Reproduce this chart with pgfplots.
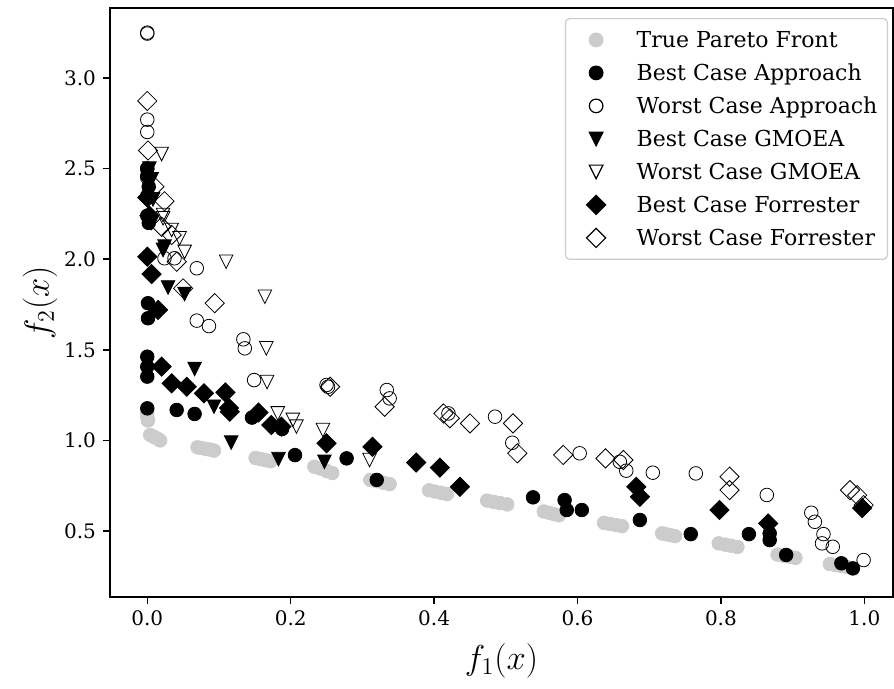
\documentclass[border=0pt]{standalone}
\usepackage[no-math]{fontspec}
\setmainfont{DejaVu Serif}
\usepackage{pgfplots}
\pgfplotsset{compat=1.18}
\definecolor{pfgray}{gray}{0.8}
\pgfdeclareplotmark{vtri}{%
 \pgfpathmoveto{\pgfqpoint{0pt}{-\pgfplotmarksize}}%
 \pgfpathlineto{\pgfqpoint{\pgfplotmarksize}{\pgfplotmarksize}}%
 \pgfpathlineto{\pgfqpoint{-\pgfplotmarksize}{\pgfplotmarksize}}%
 \pgfpathclose\pgfusepathqfillstroke}
\pgfdeclareplotmark{vtrio}{%
 \pgfpathmoveto{\pgfqpoint{0pt}{-\pgfplotmarksize}}%
 \pgfpathlineto{\pgfqpoint{\pgfplotmarksize}{\pgfplotmarksize}}%
 \pgfpathlineto{\pgfqpoint{-\pgfplotmarksize}{\pgfplotmarksize}}%
 \pgfpathclose\pgfusepathqstroke}
\pgfdeclareplotmark{dmd}{%
 \pgfpathmoveto{\pgfqpoint{0pt}{1.414\pgfplotmarksize}}%
 \pgfpathlineto{\pgfqpoint{1.414\pgfplotmarksize}{0pt}}%
 \pgfpathlineto{\pgfqpoint{0pt}{-1.414\pgfplotmarksize}}%
 \pgfpathlineto{\pgfqpoint{-1.414\pgfplotmarksize}{0pt}}%
 \pgfpathclose\pgfusepathqfillstroke}
\pgfdeclareplotmark{dmdo}{%
 \pgfpathmoveto{\pgfqpoint{0pt}{1.414\pgfplotmarksize}}%
 \pgfpathlineto{\pgfqpoint{1.414\pgfplotmarksize}{0pt}}%
 \pgfpathlineto{\pgfqpoint{0pt}{-1.414\pgfplotmarksize}}%
 \pgfpathlineto{\pgfqpoint{-1.414\pgfplotmarksize}{0pt}}%
 \pgfpathclose\pgfusepathqstroke}
\pgfdeclareplotmark{circo}{%
 \pgfpathcircle{\pgfpointorigin}{\pgfplotmarksize}\pgfusepathqstroke}
\pgfdeclareplotmark{circf}{%
 \pgfpathcircle{\pgfpointorigin}{\pgfplotmarksize}\pgfusepathqfillstroke}
\begin{document}
\begin{tikzpicture}
\begin{axis}[
  name=ax,
  scale only axis,
  width=391.5pt, height=294.5pt,
  xmin=-0.052, xmax=1.040,
  ymin=0.136, ymax=3.386,
  xtick={0,0.2,0.4,0.6,0.8,1.0},
  ytick={0.5,1.0,1.5,2.0,2.5,3.0},
  xtick pos=bottom, ytick pos=left,
  tick align=outside,
  major tick length=3.5pt,
  axis line style={line width=0.7pt},
  every tick/.style={black, line width=0.7pt},
  /pgf/number format/fixed,
  /pgf/number format/fixed zerofill,
  /pgf/number format/precision=1,
  /pgf/number format/assume math mode=true,
  tick label style={font=\fontsize{10}{12}\selectfont},
  xlabel={$f_1(x)$}, ylabel={$f_2(x)$},
  label style={font=\fontsize{17}{20}\selectfont},
  xlabel style={at={(axis description cs:0.5,0)}, anchor=center, yshift=-32pt},
  ylabel style={at={(axis description cs:0,0.5)}, anchor=center, yshift=35pt},
  only marks,
  mark size=3.4pt,
  mark options={solid, line width=1pt},
  legend cell align=left,
  legend image code/.code={\path (-10pt,0pt) (6pt,0pt); \draw[#1] plot coordinates {(0pt,0pt)};},
  legend style={at={(1,1)}, anchor=north east, xshift=-2.5pt, yshift=-5pt,
    draw=black!20, line width=0.6pt, rounded corners=2pt,
    font=\fontsize{11}{13}\selectfont,
    inner xsep=5pt, inner ysep=4pt,
    row sep=3.2pt,
    nodes={inner xsep=0pt, inner ysep=0pt, text height=10.5pt, text depth=2.8pt},
    /tikz/every odd column/.append style={column sep=14pt}},
]
% True Pareto Front
\addplot[mark=circf, mark options={draw=pfgray, fill=pfgray}] coordinates {
(0.000,1.150)(0.000,1.130)(0.001,1.110)
(0.004,1.030)(0.009,1.020)(0.014,1.010)(0.018,1.000)
(0.070,0.962)(0.076,0.958)(0.082,0.953)(0.088,0.949)(0.093,0.944)
(0.151,0.903)(0.158,0.897)(0.165,0.891)(0.172,0.885)
(0.233,0.855)(0.241,0.845)(0.250,0.832)(0.258,0.820)
(0.311,0.782)(0.320,0.775)(0.329,0.767)(0.338,0.759)
(0.393,0.725)(0.401,0.718)(0.410,0.711)(0.418,0.704)
(0.474,0.668)(0.483,0.661)(0.492,0.654)(0.502,0.647)
(0.553,0.608)(0.560,0.601)(0.567,0.594)(0.574,0.587)
(0.637,0.545)(0.645,0.539)(0.654,0.533)(0.662,0.527)
(0.718,0.487)(0.724,0.482)(0.730,0.477)(0.736,0.472)
(0.797,0.432)(0.806,0.425)(0.814,0.419)(0.823,0.412)
(0.879,0.370)(0.887,0.364)(0.896,0.358)(0.904,0.352)
(0.952,0.318)(0.960,0.312)(0.968,0.307)(0.976,0.302)
};
\addlegendentry{True Pareto Front}
% Best Case Approach
\addplot[mark=circf, mark options={draw=black, fill=black}] coordinates {
(0.000,2.500)(0.000,2.460)(0.002,2.400)(0.000,2.350)(0.000,2.240)(0.002,2.200)
(0.000,1.462)(0.000,1.407)(0.000,1.352)
(0.001,1.757)(0.013,1.720)(0.001,1.674)
(0.000,1.177)(0.041,1.168)(0.066,1.146)(0.146,1.126)(0.188,1.063)
(0.206,0.919)(0.278,0.901)(0.320,0.782)
(0.538,0.686)(0.582,0.671)(0.585,0.616)(0.606,0.616)(0.687,0.561)
(0.758,0.483)(0.839,0.483)(0.868,0.487)(0.868,0.450)(0.891,0.368)
(0.968,0.322)(0.984,0.294)
};
\addlegendentry{Best Case Approach}
% Worst Case Approach
\addplot[mark=circo, mark options={draw=black}] coordinates {
(0.000,3.245)(0.000,3.250)(0.000,2.770)(0.000,2.702)(0.000,2.500)(0.000,2.450)
(0.024,2.005)(0.038,2.005)(0.069,1.950)(0.069,1.661)(0.086,1.631)
(0.134,1.558)(0.136,1.508)(0.149,1.333)(0.250,1.306)(0.252,1.296)
(0.334,1.278)(0.338,1.232)(0.420,1.149)(0.485,1.131)(0.509,0.987)
(0.603,0.929)(0.659,0.882)(0.668,0.833)(0.705,0.822)(0.765,0.818)
(0.864,0.699)(0.926,0.601)(0.931,0.551)(0.943,0.483)(0.941,0.432)
(0.956,0.413)(0.999,0.340)
};
\addlegendentry{Worst Case Approach}
% Best Case GMOEA
\addplot[mark=vtri, mark options={draw=black, fill=black}] coordinates {
(0.003,2.500)(0.006,2.440)(0.008,2.330)(0.006,2.200)(0.024,2.069)
(0.022,2.051)(0.029,1.844)(0.052,1.808)(0.066,1.394)(0.093,1.186)
(0.117,0.988)(0.183,0.897)(0.247,0.882)
};
\addlegendentry{Best Case GMOEA}
% Worst Case GMOEA
\addplot[mark=vtrio, mark options={draw=black}] coordinates {
(0.020,2.580)(0.022,2.226)(0.034,2.161)
(0.022,2.244)(0.045,2.115)(0.052,2.040)(0.110,1.986)(0.164,1.793)
(0.166,1.508)(0.167,1.322)(0.182,1.149)(0.203,1.113)(0.208,1.076)
(0.245,1.057)(0.310,0.892)
};
\addlegendentry{Worst Case GMOEA}
% Best Case Forrester
\addplot[mark=dmd, mark options={draw=black, fill=black}] coordinates {
(0.000,2.340)(0.003,2.240)
(0.000,2.014)(0.006,1.918)(0.015,1.720)(0.020,1.407)(0.034,1.315)
(0.055,1.296)(0.079,1.260)(0.109,1.265)(0.114,1.179)(0.115,1.158)
(0.155,1.154)(0.173,1.085)(0.187,1.076)(0.250,0.984)(0.314,0.965)
(0.375,0.878)(0.408,0.850)(0.436,0.744)(0.682,0.744)(0.687,0.689)
(0.798,0.616)(0.866,0.542)(0.997,0.627)
};
\addlegendentry{Best Case Forrester}
% Worst Case Forrester
\addplot[mark=dmdo, mark options={draw=black}] coordinates {
(0.000,2.873)(0.001,2.600)(0.010,2.400)(0.024,2.320)(0.020,2.179)(0.034,2.134)
(0.041,1.986)(0.050,1.839)(0.094,1.757)(0.255,1.296)(0.331,1.186)
(0.413,1.149)(0.422,1.122)(0.450,1.094)(0.510,1.094)(0.516,0.929)
(0.580,0.920)(0.639,0.901)(0.664,0.892)(0.812,0.800)(0.812,0.726)
(0.980,0.726)(0.990,0.698)(0.999,0.643)
};
\addlegendentry{Worst Case Forrester}
\end{axis}
\pgfresetboundingbox
\path (ax.south west) ++(-55pt,-45.5pt) rectangle ([shift={(0.5pt,4pt)}]ax.north east);
\end{tikzpicture}
\end{document}
